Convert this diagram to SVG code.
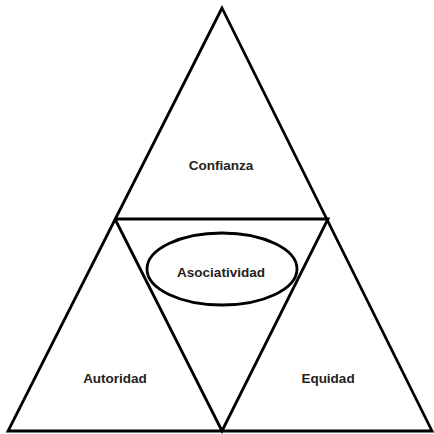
<svg xmlns="http://www.w3.org/2000/svg" width="434" height="434" viewBox="0 0 434 434">
<style>
.l{fill:none;stroke:#000;stroke-width:2.8;stroke-linejoin:miter}
.t{font-family:"Liberation Sans",Arial,sans-serif;font-weight:bold;font-size:13.5px;fill:#222;text-anchor:middle}
</style>
<rect width="434" height="434" fill="#fff"/>
<g id="connectors">
<polygon class="l" points="222,8 8,431 432,431"/>
<polyline class="l" points="115,219 328,219 222,431 115,219"/>
</g>
<g id="confianza"><text class="t" x="221" y="170">Confianza</text></g>
<g id="asociatividad"><ellipse class="l" cx="222" cy="269" rx="75" ry="36"/><text class="t" x="221" y="277">Asociatividad</text></g>
<g id="autoridad"><text class="t" x="115" y="383">Autoridad</text></g>
<g id="equidad"><text class="t" x="328" y="383">Equidad</text></g>
</svg>
